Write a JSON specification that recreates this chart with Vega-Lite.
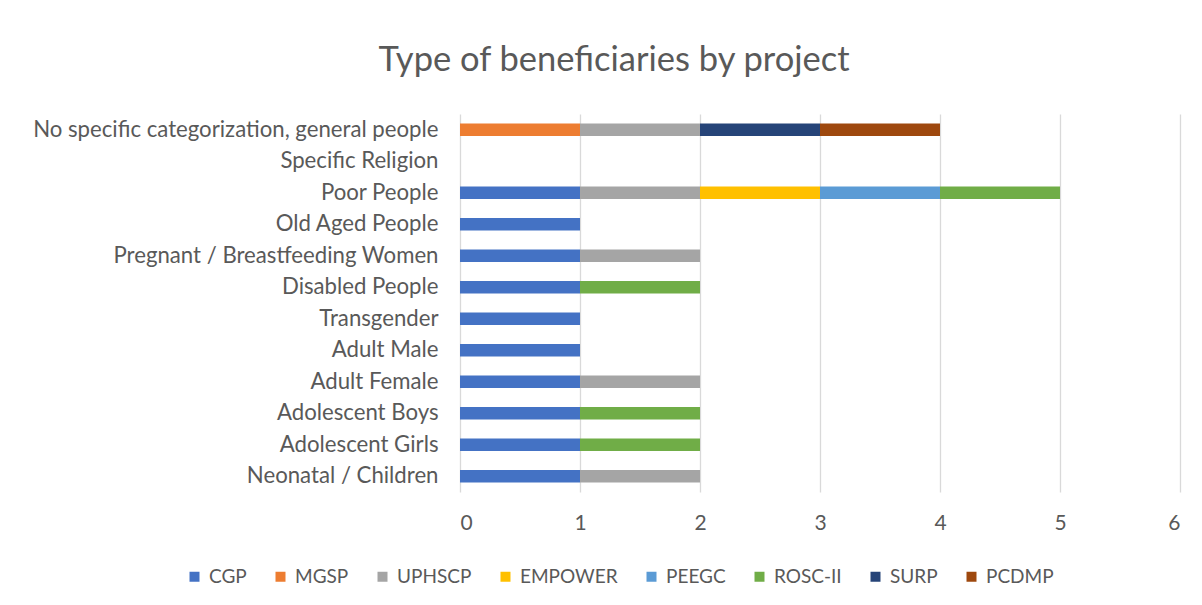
{
 "$schema": "https://vega.github.io/schema/vega-lite/v6.json",
 "width": 720, "height": 378,
 "autosize": {"type": "none"},
 "padding": {"left": 460, "top": 114, "right": 22, "bottom": 113},
 "background": "white",
 "config": {"view": {"stroke": null}, "font": "Lato"},
 "title": {"text": "Type of beneficiaries by project", "fontSize": 34.5, "font": "Lato", "fontWeight": "normal", "color": "#595959", "anchor": "middle", "frame": "group", "dx": -206, "offset": 36},
 "data": {"values": [
  {"category": "No specific categorization, general people", "project": "MGSP", "value": 1},
  {"category": "No specific categorization, general people", "project": "UPHSCP", "value": 1},
  {"category": "No specific categorization, general people", "project": "SURP", "value": 1},
  {"category": "No specific categorization, general people", "project": "PCDMP", "value": 1},
  {"category": "Poor People", "project": "CGP", "value": 1},
  {"category": "Poor People", "project": "UPHSCP", "value": 1},
  {"category": "Poor People", "project": "EMPOWER", "value": 1},
  {"category": "Poor People", "project": "PEEGC", "value": 1},
  {"category": "Poor People", "project": "ROSC-II", "value": 1},
  {"category": "Old Aged People", "project": "CGP", "value": 1},
  {"category": "Pregnant / Breastfeeding Women", "project": "CGP", "value": 1},
  {"category": "Pregnant / Breastfeeding Women", "project": "UPHSCP", "value": 1},
  {"category": "Disabled People", "project": "CGP", "value": 1},
  {"category": "Disabled People", "project": "ROSC-II", "value": 1},
  {"category": "Transgender", "project": "CGP", "value": 1},
  {"category": "Adult Male", "project": "CGP", "value": 1},
  {"category": "Adult Female", "project": "CGP", "value": 1},
  {"category": "Adult Female", "project": "UPHSCP", "value": 1},
  {"category": "Adolescent Boys", "project": "CGP", "value": 1},
  {"category": "Adolescent Boys", "project": "ROSC-II", "value": 1},
  {"category": "Adolescent Girls", "project": "CGP", "value": 1},
  {"category": "Adolescent Girls", "project": "ROSC-II", "value": 1},
  {"category": "Neonatal / Children", "project": "CGP", "value": 1},
  {"category": "Neonatal / Children", "project": "UPHSCP", "value": 1}
 ]},
 "transform": [{"calculate": "indexof(['CGP','MGSP','UPHSCP','EMPOWER','PEEGC','ROSC-II','SURP','PCDMP'], datum.project)", "as": "ord"}],
 "mark": {"type": "bar"},
 "encoding": {
  "y": {"field": "category", "type": "nominal",
   "scale": {"domain": ["No specific categorization, general people", "Specific Religion", "Poor People", "Old Aged People", "Pregnant / Breastfeeding Women", "Disabled People", "Transgender", "Adult Male", "Adult Female", "Adolescent Boys", "Adolescent Girls", "Neonatal / Children"], "paddingInner": 0.6, "paddingOuter": 0.3},
   "axis": {"title": null, "domain": false, "ticks": false, "grid": false, "labelPadding": 22, "labelFontSize": 22.2, "labelColor": "#595959", "labelFont": "Lato", "labelLimit": 0}},
  "x": {"field": "value", "type": "quantitative", "stack": "zero",
   "scale": {"domain": [0, 6], "nice": false},
   "axis": {"title": null, "domain": false, "ticks": false, "grid": true, "gridColor": "#d9d9d9", "gridWidth": 1.3, "values": [0, 1, 2, 3, 4, 5, 6], "labelPadding": 20, "labelFontSize": 21, "labelColor": "#595959", "labelFont": "Lato"}},
  "color": {"field": "project", "type": "nominal",
   "scale": {"domain": ["CGP", "MGSP", "UPHSCP", "EMPOWER", "PEEGC", "ROSC-II", "SURP", "PCDMP"], "range": ["#4472C4", "#ED7D31", "#A5A5A5", "#FFC000", "#5B9BD5", "#70AD47", "#264478", "#9E480E"]},
   "legend": {"title": null, "orient": "none", "legendX": -275, "legendY": 453, "direction": "horizontal", "columns": 8, "symbolType": "square", "symbolSize": 100, "symbolStrokeWidth": 0, "labelFontSize": 19, "labelColor": "#595959", "labelFont": "Lato", "columnPadding": 24, "labelOffset": 5}},
  "order": {"field": "ord"}
 }
}
